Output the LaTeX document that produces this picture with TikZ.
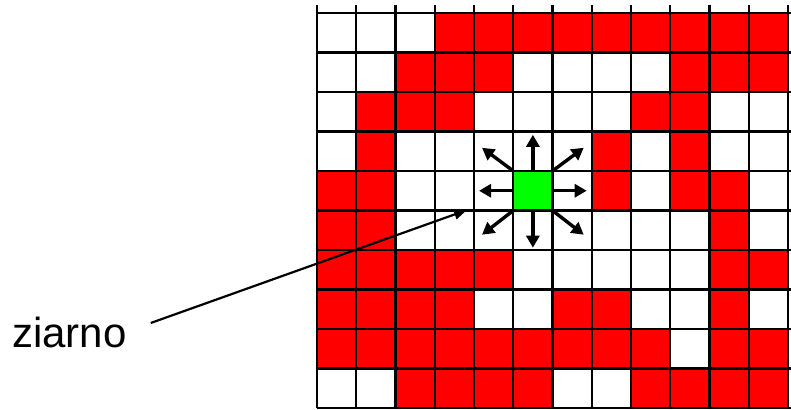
\documentclass[tikz,border=0pt]{standalone}
\usepackage{fontspec}
\setmainfont{Liberation Sans}
\usetikzlibrary{arrows.meta,positioning}

\begin{document}
\begin{tikzpicture}[x=1pt, y=-1pt,
    gridline/.style={draw=black, line width=2.2pt},
    seedbox/.style={rectangle, fill=green, minimum width=39.25pt, minimum height=39.5pt, inner sep=0pt},
    spread/.style={-{Triangle[length=12pt,width=13pt]}, line width=3.4pt},
    pointer/.style={-{Triangle[length=13pt,width=10pt]}, line width=2.2pt},
    caption/.style={font=\fontsize{42}{48}\selectfont, inner sep=0pt, anchor=base west}]
    \useasboundingbox (0,0) rectangle (791,409);

    % Red cells, row by row
    \foreach \r/\cols in {0/{3,...,11}, 1/{2,3,4,9,10,11}, 2/{1,2,3,8,9}, 3/{1,7,9}, 4/{0,1,7,9,10},
        5/{0,1,10}, 6/{0,1,2,3,4,10,11}, 7/{0,1,2,3,6,7,10}, 8/{0,...,8,10,11}, 9/{2,3,4,5,8,9,10,11}}
        \foreach \c in \cols
            \fill[red] (317+\c*39.25, 13+\r*39.5) rectangle ++(39.25,39.5);

    % Seed cell
    \node (seed) [seedbox] at (317+5.5*39.25, 13+4.5*39.5) {};

    % Grid
    \foreach \c in {0,...,12}
        \draw[gridline] (317+\c*39.25, 5) -- (317+\c*39.25, 408);
    \foreach \r in {0,...,10}
        \draw[gridline] (317, 13+\r*39.5) -- (791, 13+\r*39.5);

    % Growth directions
    \foreach \a/\dx/\dy in {north/0/-36, south/0/37, east/34/0, west/-34/0,
        north east/31/-23, north west/-31/-23, south east/31/24, south west/-31/24}
        \draw[spread] (seed.\a) -- ++(\dx,\dy);

    % Label
    \node (ziarno) [caption] at (12,347) {ziarno};
    \coordinate (grain) at (467,210);
    \draw[pointer] ([shift={(24,-9)}]ziarno.east) -- (grain);
\end{tikzpicture}
\end{document}
